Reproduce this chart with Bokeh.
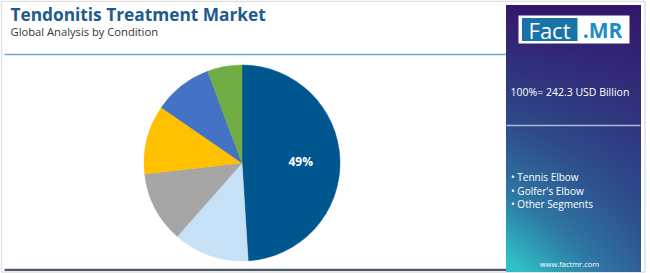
import numpy as np
from bokeh.plotting import figure
from bokeh.models import Range1d, ColumnDataSource
from bokeh.core.properties import value
from bokeh.embed import file_html
from bokeh.resources import INLINE

# ---- data ----
segments = ["Tennis Elbow", "Golfer's Elbow", "Other Segment A", "Other Segment B", "Other Segment C", "Other Segment D"]
shares = [49.0, 12.5, 11.7, 11.4, 9.7, 5.7]
colors = ["#00578f", "#c6e1f5", "#a5a5a5", "#ffc000", "#4472c4", "#70ad47"]
label_text = ["49%", "", "", "", "", ""]
title = "Tendonitis Treatment Market"
subtitle = "Global Analysis by Condition"
total_label = "100%= 242.3 USD Billion"
legend_items = ["Tennis Elbow", "Golfer's Elbow", "Other Segments"]
site = "www.factmr.com"

W, H = 650, 273
def Y(y):
    return H - y

p = figure(width=W, height=H, x_range=Range1d(0, W), y_range=Range1d(0, H),
           output_backend="svg", toolbar_location=None, min_border=0)
p.axis.visible = False
p.grid.visible = False
p.outline_line_color = None
p.background_fill_color = "white"
p.border_fill_color = "white"

# outer frame
p.quad(left=[1], right=[644.5], bottom=[Y(271.5)], top=[Y(0.8)], fill_color=None,
       line_color="#e0e0e0", line_width=1.5)

# header
p.text(x=[10], y=[Y(14)], text=[title], text_font=value("Open Sans"), text_font_style="bold",
       text_font_size="17.3px", text_color="#1d5b8e", text_baseline="middle")
p.text(x=[10], y=[Y(31)], text=[subtitle], text_font=value("Open Sans"),
       text_font_size="11.2px", text_color="#333333", text_baseline="middle")
p.segment(x0=[4], y0=[Y(54)], x1=[506], y1=[Y(54)], line_color="#6ea9c6", line_width=1.6)
p.segment(x0=[4], y0=[Y(269.3)], x1=[506], y1=[Y(269.3)], line_color="#4f5a6b", line_width=2.2)

# pie
cx, cy, r = 241.5, Y(162.5), 98
vals = np.array(shares, dtype=float)
frac = vals / vals.sum()
cum = np.concatenate([[0], np.cumsum(frac)])
start = np.pi / 2 - cum[1:] * 2 * np.pi
end = np.pi / 2 - cum[:-1] * 2 * np.pi
src = ColumnDataSource(dict(start=start, end=end, color=colors, name=segments))
p.wedge(x=cx, y=cy, radius=r, start_angle="start", end_angle="end", fill_color="color",
        line_color="color", line_width=0.5, source=src)
mid = (start + end) / 2
lx = cx + 0.6 * r * np.cos(mid)
ly = cy + 0.6 * r * np.sin(mid)
p.text(x=lx, y=ly, text=label_text, text_font=value("Open Sans"), text_font_style="bold",
       text_font_size="12px", text_color="white", text_align="center", text_baseline="middle")

# right panel gradient
x0p, x1p, y0p, y1p = 505.5, 640.5, 4.5, 271.5
pw, ph = int(x1p - x0p), int(y1p - y0p)
xs = np.linspace(0, 1, pw)[None, :]
ys = np.linspace(0, 1, ph)[:, None]  # 0 = top
t = np.clip(ys * (0.6 + 0.45 * (1 - xs)), 0, 1)
stops = np.array([[0.0, 0x33, 0x17, 0x6c], [0.45, 0x2e, 0x4a, 0x8a], [0.75, 0x2e, 0x7a, 0xa6], [1.0, 0x2e, 0xc2, 0xc6]])
rch = np.interp(t, stops[:, 0], stops[:, 1])
gch = np.interp(t, stops[:, 0], stops[:, 2])
bch = np.interp(t, stops[:, 0], stops[:, 3])
img = np.empty((ph, pw), dtype=np.uint32)
view = img.view(dtype=np.uint8).reshape((ph, pw, 4))
view[:, :, 0] = rch.astype(np.uint8)
view[:, :, 1] = gch.astype(np.uint8)
view[:, :, 2] = bch.astype(np.uint8)
view[:, :, 3] = 255
img = img[::-1]  # row 0 at bottom
p.image_rgba(image=[img], x=x0p, y=Y(y1p), dw=pw, dh=ph)

# logo
p.quad(left=[518], right=[629], bottom=[Y(43)], top=[Y(15)], fill_color="white", line_color=None)
p.quad(left=[521.5], right=[577], bottom=[Y(40.5)], top=[Y(17.5)], fill_color="#1a73a8", line_color=None)
p.text(x=[549], y=[Y(29.5)], text=["Fact"], text_font=value("Open Sans"), text_font_size="22px",
       text_color="white", text_align="center", text_baseline="middle")
p.text(x=[602], y=[Y(29.5)], text=[".MR"], text_font=value("Open Sans"), text_font_style="bold",
       text_font_size="21px", text_color="#1a8cc6", text_align="center", text_baseline="middle")

p.text(x=[510], y=[Y(91)], text=[total_label], text_font=value("Open Sans"),
       text_font_size="10.5px", text_color="white", text_baseline="middle")
p.segment(x0=[506], y0=[Y(125)], x1=[640], y1=[Y(125)], line_color="#a9bcd2", line_width=1.5)
p.text(x=[510.5] * 3, y=[Y(176), Y(190), Y(203.5)], text=["• " + s for s in legend_items],
       text_font=value("Open Sans"), text_font_size="10px", text_color="white", text_baseline="middle")
p.text(x=[569], y=[Y(263)], text=[site], text_font=value("Open Sans"), text_font_size="7.5px",
       text_color="white", text_align="center", text_baseline="middle")

open("out.html", "w").write(file_html(p, INLINE))
